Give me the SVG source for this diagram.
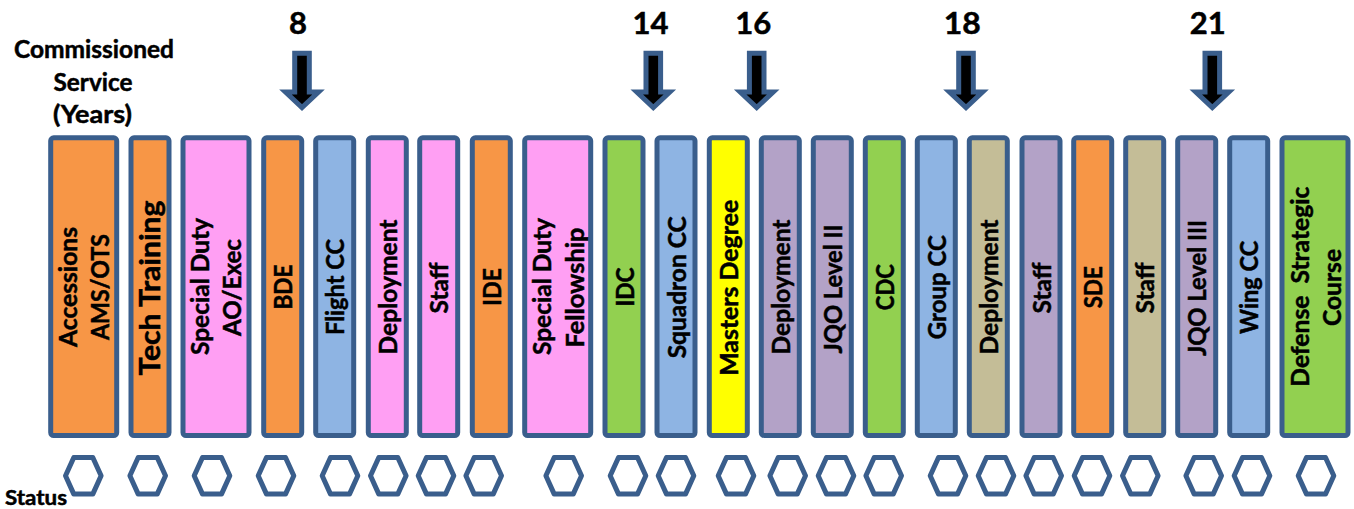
<svg xmlns="http://www.w3.org/2000/svg" xmlns:xlink="http://www.w3.org/1999/xlink" width="1354" height="509" viewBox="0 0 1354 509">
<style>
text{font-family:"Lato","Liberation Sans",sans-serif;font-weight:700;fill:#000;stroke:#000;stroke-width:0.5}
.b{stroke:#3A5E8C;stroke-width:5}
.lbl{font-size:24px;text-anchor:middle}
.big{font-size:28px;text-anchor:middle}
.hdr{font-size:24px;text-anchor:middle}
.num{font-size:31px;text-anchor:middle}
.or{fill:#F79646}.pk{fill:#FF9FF3}.bl{fill:#8EB4E3}.gr{fill:#92D050}.ye{fill:#FFFF00}.pu{fill:#B3A2C7}.tn{fill:#C4BD97}
.hex{fill:#fff;stroke:#3A5E8C;stroke-width:5;stroke-linejoin:round}
.arr{fill:#000;stroke:#3A5E8C;stroke-width:5;stroke-linejoin:miter}
</style>
<defs>
<polygon id="hx" class="hex" points="-17.8,0 -9.5,-18.3 9.5,-18.3 17.8,0 9.5,18.3 -9.5,18.3"/>
<path id="ar" class="arr" d="M-7.3,53.2 L7.3,53.2 L7.3,92 L16.5,92 L0,107.5 L-16.5,92 L-7.3,92 Z"/>
</defs>
<rect width="1354" height="509" fill="#fff"/>
<g id="header">
<text class="hdr" x="94" y="57.5" textLength="160" lengthAdjust="spacingAndGlyphs">Commissioned</text>
<text class="hdr" x="93" y="90.5" textLength="79" lengthAdjust="spacingAndGlyphs">Service</text>
<text class="hdr" x="92.5" y="123" textLength="79" lengthAdjust="spacingAndGlyphs">(Years)</text>
<text x="5" y="505" style="font-size:21px" textLength="62" lengthAdjust="spacingAndGlyphs">Status</text>
</g>
<g id="years">
<text class="num" x="298" y="34">8</text>
<text class="num" x="650.5" y="34" textLength="36" lengthAdjust="spacingAndGlyphs">14</text>
<text class="num" x="753.3" y="34" textLength="36" lengthAdjust="spacingAndGlyphs">16</text>
<text class="num" x="962.3" y="34" textLength="37" lengthAdjust="spacingAndGlyphs">18</text>
<text class="num" x="1207.8" y="34" textLength="36" lengthAdjust="spacingAndGlyphs">21</text>
</g>
<g id="connectors">
<use xlink:href="#ar" x="302"/>
<use xlink:href="#ar" x="653.3"/>
<use xlink:href="#ar" x="756.7"/>
<use xlink:href="#ar" x="966"/>
<use xlink:href="#ar" x="1212.3"/>
</g>
<g id="n1"><rect class="b or" x="50.7" y="137.8" width="66" height="297.7" rx="3"/>
<text class="lbl" transform="translate(77.2,287) rotate(-90)" textLength="120" lengthAdjust="spacingAndGlyphs">Accessions</text>
<text class="lbl" transform="translate(109.1,287) rotate(-90)" textLength="106" lengthAdjust="spacingAndGlyphs">AMS/OTS</text></g>
<g id="n2"><rect class="b or" x="131" y="137.8" width="38" height="297.7" rx="3"/>
<text class="big" transform="translate(160,288) rotate(-90)" textLength="175" lengthAdjust="spacingAndGlyphs">Tech Training</text></g>
<g id="n3"><rect class="b pk" x="183" y="137.8" width="66" height="297.7" rx="3"/>
<text class="lbl" transform="translate(209.4,286.5) rotate(-90)" textLength="137" lengthAdjust="spacingAndGlyphs">Special Duty</text>
<text class="lbl" transform="translate(241.2,287.5) rotate(-90)" textLength="97" lengthAdjust="spacingAndGlyphs">AO/Exec</text></g>
<g id="n4"><rect class="b or" x="263.7" y="137.8" width="38" height="297.7" rx="3"/>
<text class="lbl" transform="translate(292.4,287) rotate(-90)" textLength="45" lengthAdjust="spacingAndGlyphs">BDE</text></g>
<g id="n5"><rect class="b bl" x="315.7" y="137.8" width="38" height="297.7" rx="3"/>
<text class="lbl" transform="translate(344.2,287) rotate(-90)" textLength="96" lengthAdjust="spacingAndGlyphs">Flight CC</text></g>
<g id="n6"><rect class="b pk" x="368.3" y="137.8" width="38" height="297.7" rx="3"/>
<text class="lbl" transform="translate(396.8,287) rotate(-90)" textLength="135" lengthAdjust="spacingAndGlyphs">Deployment</text></g>
<g id="n7"><rect class="b pk" x="419.7" y="137.8" width="38" height="297.7" rx="3"/>
<text class="lbl" transform="translate(448.4,288) rotate(-90)" textLength="51" lengthAdjust="spacingAndGlyphs">Staff</text></g>
<g id="n8"><rect class="b or" x="472.3" y="137.8" width="38" height="297.7" rx="3"/>
<text class="lbl" transform="translate(500.8,287) rotate(-90)" textLength="38" lengthAdjust="spacingAndGlyphs">IDE</text></g>
<g id="n9"><rect class="b pk" x="524.7" y="137.8" width="66" height="297.7" rx="3"/>
<text class="lbl" transform="translate(551,286.5) rotate(-90)" textLength="137" lengthAdjust="spacingAndGlyphs">Special Duty</text>
<text class="lbl" transform="translate(583.5,287.5) rotate(-90)" textLength="120" lengthAdjust="spacingAndGlyphs">Fellowship</text></g>
<g id="n10"><rect class="b gr" x="605" y="137.8" width="38" height="297.7" rx="3"/>
<text class="lbl" transform="translate(633.5,287) rotate(-90)" textLength="39" lengthAdjust="spacingAndGlyphs">IDC</text></g>
<g id="n11"><rect class="b bl" x="657" y="137.8" width="38" height="297.7" rx="3"/>
<text class="lbl" transform="translate(685.5,287.3) rotate(-90)" textLength="142" lengthAdjust="spacingAndGlyphs">Squadron CC</text></g>
<g id="n12"><rect class="b ye" x="709.3" y="137.8" width="38" height="297.7" rx="3"/>
<text class="lbl" transform="translate(737.8,287.8) rotate(-90)" textLength="176" lengthAdjust="spacingAndGlyphs">Masters Degree</text></g>
<g id="n13"><rect class="b pu" x="761.3" y="137.8" width="38" height="297.7" rx="3"/>
<text class="lbl" transform="translate(789.8,287) rotate(-90)" textLength="135" lengthAdjust="spacingAndGlyphs">Deployment</text></g>
<g id="n14"><rect class="b pu" x="813.3" y="137.8" width="38" height="297.7" rx="3"/>
<text class="lbl" transform="translate(841.8,289) rotate(-90)" textLength="129" lengthAdjust="spacingAndGlyphs">JQO Level II</text></g>
<g id="n15"><rect class="b gr" x="865.3" y="137.8" width="38" height="297.7" rx="3"/>
<text class="lbl" transform="translate(893.8,287.2) rotate(-90)" textLength="46" lengthAdjust="spacingAndGlyphs">CDC</text></g>
<g id="n16"><rect class="b bl" x="917.3" y="137.8" width="38" height="297.7" rx="3"/>
<text class="lbl" transform="translate(945.8,287.2) rotate(-90)" textLength="104" lengthAdjust="spacingAndGlyphs">Group CC</text></g>
<g id="n17"><rect class="b tn" x="969.3" y="137.8" width="38" height="297.7" rx="3"/>
<text class="lbl" transform="translate(997.8,287) rotate(-90)" textLength="135" lengthAdjust="spacingAndGlyphs">Deployment</text></g>
<g id="n18"><rect class="b pu" x="1022" y="137.8" width="38" height="297.7" rx="3"/>
<text class="lbl" transform="translate(1050.5,288) rotate(-90)" textLength="51" lengthAdjust="spacingAndGlyphs">Staff</text></g>
<g id="n19"><rect class="b or" x="1073.7" y="137.8" width="38" height="297.7" rx="3"/>
<text class="lbl" transform="translate(1102.2,287.3) rotate(-90)" textLength="42" lengthAdjust="spacingAndGlyphs">SDE</text></g>
<g id="n20"><rect class="b tn" x="1125.7" y="137.8" width="38" height="297.7" rx="3"/>
<text class="lbl" transform="translate(1154.2,288) rotate(-90)" textLength="51" lengthAdjust="spacingAndGlyphs">Staff</text></g>
<g id="n21"><rect class="b pu" x="1177.7" y="137.8" width="38" height="297.7" rx="3"/>
<text class="lbl" transform="translate(1206.2,288) rotate(-90)" textLength="136" lengthAdjust="spacingAndGlyphs">JQO Level III</text></g>
<g id="n22"><rect class="b bl" x="1229.7" y="137.8" width="38" height="297.7" rx="3"/>
<text class="lbl" transform="translate(1258.2,287.2) rotate(-90)" textLength="93" lengthAdjust="spacingAndGlyphs">Wing CC</text></g>
<g id="n23"><rect class="b gr" x="1282" y="137.8" width="66" height="297.7" rx="3"/>
<text class="lbl" transform="translate(1309,286.7) rotate(-90)" textLength="200" lengthAdjust="spacingAndGlyphs" style="white-space:pre">Defense  Strategic</text>
<text class="lbl" transform="translate(1340.6,287.5) rotate(-90)" textLength="77" lengthAdjust="spacingAndGlyphs">Course</text></g>
<g id="status">
<use xlink:href="#hx" x="83.3" y="475.8"/>
<use xlink:href="#hx" x="147.7" y="475.8"/>
<use xlink:href="#hx" x="212" y="475.8"/>
<use xlink:href="#hx" x="276" y="475.8"/>
<use xlink:href="#hx" x="340" y="475.8"/>
<use xlink:href="#hx" x="388.3" y="475.8"/>
<use xlink:href="#hx" x="436" y="475.8"/>
<use xlink:href="#hx" x="483.7" y="475.8"/>
<use xlink:href="#hx" x="563.7" y="475.8"/>
<use xlink:href="#hx" x="628" y="475.8"/>
<use xlink:href="#hx" x="676" y="475.8"/>
<use xlink:href="#hx" x="736" y="475.8"/>
<use xlink:href="#hx" x="787.7" y="475.8"/>
<use xlink:href="#hx" x="836" y="475.8"/>
<use xlink:href="#hx" x="883.7" y="475.8"/>
<use xlink:href="#hx" x="948" y="475.8"/>
<use xlink:href="#hx" x="996" y="475.8"/>
<use xlink:href="#hx" x="1043.7" y="475.8"/>
<use xlink:href="#hx" x="1092" y="475.8"/>
<use xlink:href="#hx" x="1140.3" y="475.8"/>
<use xlink:href="#hx" x="1203.7" y="475.8"/>
<use xlink:href="#hx" x="1252" y="475.8"/>
<use xlink:href="#hx" x="1316" y="475.8"/>
</g>
</svg>
